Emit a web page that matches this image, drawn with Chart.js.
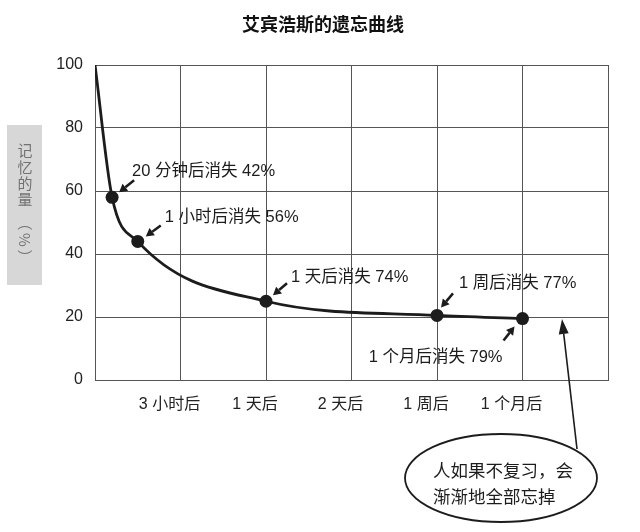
<!DOCTYPE html>
<html>
<head>
<meta charset="utf-8">
<script src="https://cdn.jsdelivr.net/npm/chart.js@4/dist/chart.umd.min.js"></script>
<style>
  html, body { margin: 0; padding: 0; background: #fff; }
  #wrap { width: 640px; height: 532px; }
</style>
</head>
<body>
<div id="wrap"><canvas id="curve" width="640" height="532"></canvas></div>
<script>
// data
const timeLabels = ['3 小时后', '1 天后', '2 天后', '1 周后', '1 个月后'];
const pointX = [0, 0.2, 0.5, 2, 4, 5];
const retained = [100, 58, 44, 25, 20.5, 19.5];
const lossNotes = ['', '20 分钟后消失 42%', '1 小时后消失 56%', '1 天后消失 74%', '1 周后消失 77%', '1 个月后消失 79%'];
const calloutLines = ['人如果不复习，会', '渐渐地全部忘掉'];
const yLabelChars = ['记', '忆', '的', '量'];

const INK = '#1c1c1c';
const GRID = '#555';
const FONT = '"Liberation Sans", "Noto Sans CJK SC", sans-serif';
Chart.defaults.font.family = FONT;

// where each note sits relative to its dot, and its little arrow
const noteStyle = [
  null,
  { dx: 20, dy: -26, align: 'left', tail: [22, -17], tip: [7, -5] },
  { dx: 27, dy: -24, align: 'left', tail: [23, -16], tip: [8, -5] },
  { dx: 25, dy: -24, align: 'left', tail: [21, -18], tip: [7, -6] },
  { dx: 22, dy: -32, align: 'left', tail: [16, -22], tip: [4, -8] },
  { dx: -20, dy: 39, align: 'right', tail: [-19, 22], tip: [-8, 8] },
];

function arrow(ctx, x1, y1, x2, y2, head, half, width) {
  const a = Math.atan2(y2 - y1, x2 - x1);
  const bx = x2 - head * Math.cos(a), by = y2 - head * Math.sin(a);
  ctx.beginPath();
  ctx.moveTo(x1, y1);
  ctx.lineTo(bx, by);
  ctx.lineWidth = width;
  ctx.stroke();
  ctx.beginPath();
  ctx.moveTo(x2, y2);
  ctx.lineTo(bx + half * Math.sin(a), by - half * Math.cos(a));
  ctx.lineTo(bx - half * Math.sin(a), by + half * Math.cos(a));
  ctx.closePath();
  ctx.fill();
}

const extras = {
  id: 'extras',
  afterDraw(chart) {
    const ctx = chart.ctx;
    ctx.save();

    // title
    ctx.fillStyle = '#111';
    ctx.font = 'bold 18px "Noto Sans CJK SC"';
    ctx.textAlign = 'center';
    ctx.textBaseline = 'middle';
    ctx.fillText('艾宾浩斯的遗忘曲线', 323, 24);

    // grey box with vertical axis title
    ctx.fillStyle = '#d7d7d7';
    ctx.fillRect(7, 125, 35, 160);
    ctx.fillStyle = '#727272';
    ctx.font = '15px "Noto Sans CJK SC"';
    [150, 167, 183, 199].forEach((y, i) => ctx.fillText(yLabelChars[i], 25, y));
    ['（', '%', '）'].forEach((ch, i) => {
      ctx.save();
      ctx.translate(25, [223, 240, 257][i]);
      ctx.rotate(Math.PI / 2);
      ctx.fillText(ch, 0, 0);
      ctx.restore();
    });

    // notes next to the dots
    const pts = chart.getDatasetMeta(0).data;
    ctx.fillStyle = INK;
    ctx.strokeStyle = INK;
    ctx.font = '16.5px ' + FONT;
    noteStyle.forEach((s, i) => {
      if (!s) return;
      const p = pts[i];
      ctx.textAlign = s.align;
      ctx.fillText(lossNotes[i], p.x + s.dx, p.y + s.dy);
      arrow(ctx, p.x + s.tail[0], p.y + s.tail[1], p.x + s.tip[0], p.y + s.tip[1], 8, 4.5, 2.5);
    });

    // callout bubble
    ctx.lineWidth = 1.8;
    ctx.beginPath();
    ctx.ellipse(501, 478, 96, 44, 0, 0, Math.PI * 2);
    ctx.stroke();
    arrow(ctx, 577, 449, 562, 319, 15, 5, 1.6);
    ctx.font = '17.5px "Noto Sans CJK SC"';
    ctx.textAlign = 'left';
    ctx.fillText(calloutLines[0], 433, 470);
    ctx.fillText(calloutLines[1], 433, 496);

    ctx.restore();
  }
};

new Chart(document.getElementById('curve'), {
  type: 'line',
  data: {
    datasets: [{
      data: pointX.map((x, i) => ({ x: x, y: retained[i] })),
      borderColor: INK,
      borderWidth: 2.8,
      cubicInterpolationMode: 'monotone',
      pointRadius: retained.map((v, i) => (i === 0 ? 0 : 6.5)),
      pointBackgroundColor: INK,
      pointBorderColor: INK,
      pointBorderWidth: 0,
    }],
  },
  options: {
    responsive: false,
    animation: false,
    layout: { padding: { top: 65, right: 32, left: 0, bottom: 0 } },
    plugins: {
      legend: { display: false },
      tooltip: { enabled: false },
      title: { display: false },
    },
    scales: {
      x: {
        type: 'linear',
        min: 0,
        max: 6,
        afterFit: (s) => { s.height = 152; },
        grid: { color: GRID, lineWidth: 1, tickLength: 0 },
        border: { color: GRID },
        ticks: {
          stepSize: 1,
          autoSkip: false,
          maxRotation: 0,
          padding: 15,
          labelOffset: -11,
          color: '#222',
          font: { size: 16 },
          callback: (v) => timeLabels[v - 1] || '',
        },
      },
      y: {
        min: 0,
        max: 100,
        afterFit: (s) => { s.width = 95; },
        grid: { color: GRID, lineWidth: 1, tickLength: 0 },
        border: { color: GRID },
        ticks: {
          stepSize: 20,
          padding: 12,
          color: '#222',
          font: { size: 16 },
        },
      },
    },
  },
  plugins: [extras],
});
</script>
</body>
</html>
